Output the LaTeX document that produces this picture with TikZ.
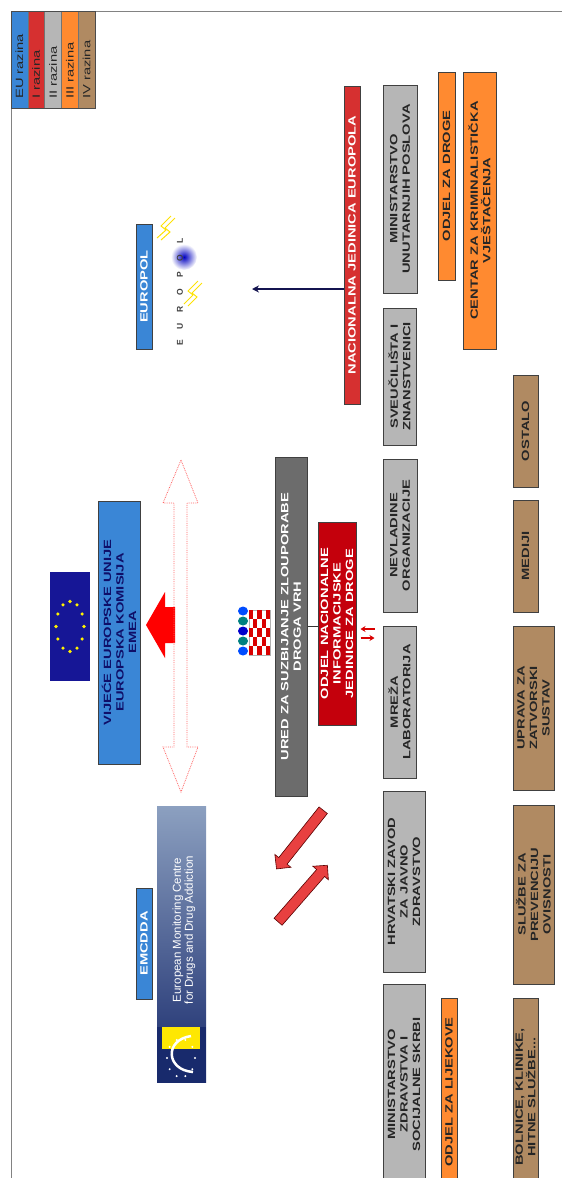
\documentclass[tikz,border=0pt]{standalone}
\usepackage{fontspec}
\setmainfont{Liberation Sans}
\newfontfamily\boxfont[FakeStretch=1.4]{Liberation Sans}
\usetikzlibrary{arrows.meta,shapes.arrows}

\definecolor{eublue}{RGB}{58,134,214}
\definecolor{lvlred}{RGB}{214,48,48}
\definecolor{darkred}{RGB}{196,0,12}
\definecolor{lvlgray}{RGB}{182,182,182}
\definecolor{uredgray}{RGB}{108,108,108}
\definecolor{lvlorange}{RGB}{255,138,48}
\definecolor{lvlbrown}{RGB}{176,138,98}
\definecolor{flagblue}{RGB}{22,22,150}
\definecolor{navyline}{RGB}{20,20,80}
\definecolor{framegray}{RGB}{130,130,130}
\definecolor{arrowred}{RGB}{232,64,64}
\definecolor{emtop}{RGB}{140,160,192}
\definecolor{embot}{RGB}{24,42,108}

\begin{document}
\begin{tikzpicture}[x=1pt,y=-1pt,
  box/.style={draw=black!75,line width=1,rotate=90,inner sep=0,align=center,
    font=\boxfont\bfseries\fontsize{10.5}{12.5}\selectfont},
  dims/.style 2 args={minimum width=#1pt,minimum height=#2pt},
  gbox/.style={box,fill=lvlgray,text=black!85},
  obox/.style={box,fill=lvlorange,text=black!85},
  bbox/.style={box,fill=lvlbrown,text=black!85},
  legtext/.style={rotate=90,inner sep=0,anchor=west,text=black!85,
    font=\boxfont\fontsize{10.5}{11}\selectfont},
  logoletter/.style={rotate=90,inner sep=0,text=black!75,font=\bfseries\fontsize{8.5}{8.5}\selectfont},
  fatarr/.style={single arrow,draw=red!35!black,fill=arrowred,line width=0.6,
    minimum height=75pt,inner sep=5pt,single arrow head extend=5pt},
  smallarr/.style={red!85!black,line width=1.5,-{Stealth[length=5pt,width=6pt]}}
]
\useasboundingbox (0,0) rectangle (562,1178);
\clip (0,0) rectangle (562,1178);

\draw[framegray] (11,1178) -- (11,11) -- (562,11);

\foreach \c/\t [count=\i from 0] in {eublue/EU razina,lvlred/I razina,lvlgray/II razina,lvlorange/III razina,lvlbrown/IV razina}
{
\fill[\c,draw=black!55] (11+\i*16.8,11) rectangle (27.8+\i*16.8,108);
\node[legtext] (leg\i) at (19.4+\i*16.8,99) {\t};
}
\draw[black!70,line width=1] (11,11) rectangle (95,108);

\node[box,fill=eublue,text=white,dims={125}{16}] (europol) at (144,286.5) {EUROPOL};
\shade[inner color=blue!75!black,outer color=white] (184,257) circle (13);
\draw[yellow!85!orange,line width=1] (157,238) -- (166,230) -- (161,226) -- (171,216);
\draw[yellow!85!orange,line width=1] (161,240) -- (170,232) -- (165,228) -- (175,218);
\draw[yellow!85!orange,line width=1] (184,304) -- (193,295) -- (188,291) -- (198,281);
\draw[yellow!85!orange,line width=1] (188,306) -- (197,297) -- (192,293) -- (202,283);
\foreach \l [count=\i from 0] in {E,U,R,O,P,O,L}
{
\node[logoletter] (ep\i) at (180,343-\i*17) {\l};
}

\node[box,fill=lvlred,text=white,dims={318}{16}] (nje) at (352,245) {NACIONALNA JEDINICA EUROPOLA};
\coordinate (eptip) at (252,289);
\draw[navyline,line width=2,-{Stealth[length=7pt,width=7pt]}] (nje.north |- eptip) -- (eptip);

\node[gbox,dims={208}{34}] (mup) at (400,189) {MINISTARSTVO\\UNUTARNJIH POSLOVA};
\node[gbox,dims={137}{33}] (sveuc) at (399.5,376.5) {SVEUČILIŠTA I\\ZNANSTVENICI};
\node[gbox,dims={153}{34}] (nvo) at (400,535.5) {NEVLADINE\\ORGANIZACIJE};
\node[gbox,dims={152}{33}] (mreza) at (399.5,702) {MREŽA\\LABORATORIJA};
\node[gbox,dims={181}{42}] (hzjz) at (404,881.5) {HRVATSKI ZAVOD\\ZA JAVNO\\ZDRAVSTVO};
\node[gbox,dims={201}{42}] (mzss) at (404,1084.5) {MINISTARSTVO\\ZDRAVSTVA I\\SOCIJALNE SKRBI};

\node[obox,dims={208}{17}] (odroge) at (446.5,176) {ODJEL ZA DROGE};
\node[obox,dims={277}{33}] (ckv) at (479.5,210.5) {CENTAR ZA KRIMINALISTIČKA\\VJEŠTAČENJA};
\node[obox,dims={188}{16}] (olijek) at (449,1092) {ODJEL ZA LIJEKOVE};

\node[bbox,dims={112}{25}] (ostalo) at (525.5,431) {OSTALO};
\node[bbox,dims={112}{25}] (mediji) at (525.5,556) {MEDIJI};
\node[bbox,dims={164}{41}] (uprava) at (533.5,708) {UPRAVA ZA\\ZATVORSKI\\SUSTAV};
\node[bbox,dims={179}{41}] (sluzbe) at (533.5,894.5) {SLUŽBE ZA\\PREVENCIJU\\OVISNOSTI};
\node[bbox,dims={198}{25}] (bolnice) at (525.5,1097) {BOLNICE, KLINIKE,\\HITNE SLUŽBE...};

\fill[flagblue] (50,572) rectangle (90,681);
\foreach \a in {0,30,...,330}
{
\fill[yellow,shift={(70,626.5)}] (\a:14 and 25) circle (1.8);
}

\node[box,fill=eublue,text=flagblue!70!black,dims={263}{42}] (vijece) at (119,632.5) {VIJEĆE EUROPSKE UNIJE\\EUROPSKA KOMISIJA\\EMEA};

\fill[red] (146,625) -- (165,592) -- (165,607) -- (175,607) -- (175,643) -- (165,643) -- (165,658) -- cycle;

\draw[red!60,densely dotted,line width=0.8] (181,460) -- (198,503) -- (187,503) -- (187,747) -- (198,747)
  -- (181,792) -- (163,747) -- (174,747) -- (174,503) -- (163,503) -- cycle;

\node[box,fill=uredgray,text=white,dims={339}{32}] (ured) at (291,626.5) {URED ZA SUZBIJANJE ZLOUPORABE\\DROGA VRH};

\fill[white,draw=black!30] (249,610) rectangle (270,655);
\foreach \i in {0,...,4}
{
\foreach \j in {0,...,4}
{
\ifodd\numexpr\i+\j\relax\else
\fill[red!85!black] (249+4.2*\i,610+9*\j) rectangle (253.2+4.2*\i,619+9*\j);
\fi
}
}
\foreach \k/\c in {0/blue!70!cyan,1/teal,2/blue!80!black,3/teal,4/blue!70!cyan}
{
\fill[\c] (243,611+10*\k) ellipse (5 and 4.5);
}

\node[box,fill=darkred,text=white,dims={203}{38}] (onijd) at (337,623.5) {ODJEL NACIONALNE\\INFORMACIJSKE\\JEDINICE ZA DROGE};
\draw[black!80,line width=1] (ured.south) -- (onijd.north |- ured.south);

\coordinate (arrA) at (0,629);
\coordinate (arrB) at (0,638);
\draw[smallarr,shorten <=8pt,shorten >=4pt] (mreza.north |- arrA) -- (onijd.south |- arrA);
\draw[smallarr,shorten <=4pt,shorten >=8pt] (onijd.south |- arrB) -- (mreza.north |- arrB);

\node[fatarr,rotate=231.5] (xa1) at (301.5,837.5) {};
\node[fatarr,rotate=48.9] (xa2) at (301,895.5) {};

\node[box,fill=eublue,text=white,dims={111}{16}] (emcdda) at (144,943.5) {EMCDDA};
\shade[top color=emtop,bottom color=embot] (157,806) rectangle (206,1082);
\node[rotate=90,inner sep=0,align=center,text=white,font=\fontsize{11.5}{12}\selectfont] (emtext) at (184,930) {European Monitoring Centre\\for Drugs and Drug Addiction};
\fill[embot] (157,1027) rectangle (206,1082);
\fill[yellow!90!orange] (162,1027) rectangle (200,1049);
\foreach \a in {0,36,...,324}
{
\fill[white,shift={(181,1058)}] (\a:14 and 19) circle (1.1);
}
\draw[white,line width=2.5] (191,1036) .. controls (164,1040) and (166,1070) .. (193,1072);
\end{tikzpicture}
\end{document}
